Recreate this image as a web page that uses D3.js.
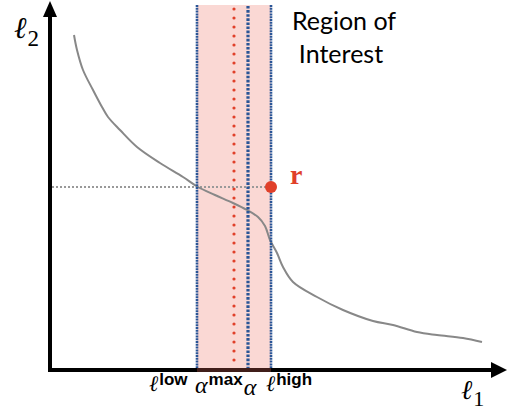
<!DOCTYPE html>
<html>
<head>
<meta charset="utf-8">
<script src="https://cdn.jsdelivr.net/npm/d3@7"></script>
<style>
  body { margin: 0; background: #fff; }
  svg { display: block; }
</style>
</head>
<body>
<svg id="chart"></svg>
<script>
// trade-off curve, l1 vs l2
const curveL1 = [24, 27, 33, 43, 52, 58, 70, 87, 110, 133, 148, 165, 183, 197, 208, 215, 220, 227, 233, 243, 267, 293, 323, 343, 367, 387, 413, 432];
const curveL2 = [335, 320, 300, 280, 263, 253, 240, 223, 207, 193, 183, 175, 167, 160, 153, 144, 130, 117, 103, 88, 73, 60, 49, 45, 38, 35, 32, 28];

// region of interest markers along l1
const lLow = 147;
const alphaMax = 184;
const alphaVal = 198;
const lHigh = 221;
const rL2 = 183;

const width = 514, height = 410;
const margin = { top: 5, right: 9, bottom: 40, left: 50 };

const svg = d3.select('#chart')
  .attr('width', width)
  .attr('height', height);

const x = d3.scaleLinear().domain([0, 455]).range([margin.left, width - margin.right]);
const y = d3.scaleLinear().domain([0, 365]).range([height - margin.bottom, margin.top]);

const serif = '"Liberation Serif", "DejaVu Serif", serif';
const ellFont = '"DejaVu Serif", serif';
const sans = '"Liberation Sans", Arial, sans-serif';

// axes with arrow heads
svg.append('line')
  .attr('x1', x(0)).attr('y1', y(0))
  .attr('x2', x(0)).attr('y2', 14)
  .attr('stroke', '#000').attr('stroke-width', 4);
svg.append('path')
  .attr('d', `M${x(0) - 7},17 L${x(0)},1 L${x(0) + 7},17 Z`)
  .attr('fill', '#000');

svg.append('line')
  .attr('x1', x(0) - 2).attr('y1', y(0))
  .attr('x2', 494).attr('y2', y(0))
  .attr('stroke', '#000').attr('stroke-width', 4);
svg.append('path')
  .attr('d', `M491,${y(0) - 8} L507,${y(0)} L491,${y(0) + 8} Z`)
  .attr('fill', '#000');

// shaded region (drawn over the axis, semi transparent)
svg.append('rect')
  .attr('x', x(lLow))
  .attr('y', margin.top)
  .attr('width', x(lHigh) - x(lLow))
  .attr('height', y(0) + 2 - margin.top)
  .attr('fill', 'rgb(236,112,96)')
  .attr('fill-opacity', 0.27);

// horizontal guide to r
svg.append('line')
  .attr('x1', x(0) + 2).attr('y1', y(rL2))
  .attr('x2', x(lHigh)).attr('y2', y(rL2))
  .attr('stroke', '#999').attr('stroke-width', 2)
  .attr('stroke-dasharray', '2,2');

// curve
const curve = curveL1.map((d, i) => [d, curveL2[i]]);
svg.append('path')
  .datum(curve)
  .attr('d', d3.line().x(d => x(d[0])).y(d => y(d[1])).curve(d3.curveCatmullRom))
  .attr('fill', 'none')
  .attr('stroke', '#888')
  .attr('stroke-width', 2);

// vertical markers
const yTop = margin.top, yBot = y(0) - 2;
[lLow, lHigh].forEach(v => {
  svg.append('line')
    .attr('x1', x(v)).attr('x2', x(v))
    .attr('y1', yTop).attr('y2', yBot)
    .attr('stroke', '#2a5596').attr('stroke-width', 2.6)
    .attr('stroke-dasharray', '2,0.8');
});
svg.append('line')
  .attr('x1', x(alphaVal)).attr('x2', x(alphaVal))
  .attr('y1', yTop + 1).attr('y2', yBot)
  .attr('stroke', '#2a5596').attr('stroke-width', 3.2)
  .attr('stroke-dasharray', '2.6,1.5');
svg.append('line')
  .attr('x1', x(alphaMax)).attr('x2', x(alphaMax))
  .attr('y1', yTop + 4).attr('y2', yBot)
  .attr('stroke', '#e0402a').attr('stroke-width', 3.2)
  .attr('stroke-linecap', 'round')
  .attr('stroke-dasharray', '0,9');

// point r
svg.append('circle')
  .attr('cx', x(lHigh)).attr('cy', y(rL2))
  .attr('r', 6)
  .attr('fill', '#e0402a');
svg.append('text')
  .attr('x', x(lHigh) + 19).attr('y', y(rL2) - 3)
  .attr('font-family', serif).attr('font-weight', 'bold')
  .attr('font-size', 28).attr('fill', '#e0402a')
  .text('r');

// region title
const title = svg.append('text')
  .attr('text-anchor', 'middle')
  .attr('font-family', '"Lato", "Open Sans", sans-serif')
  .attr('font-size', 25).attr('fill', '#000');
title.append('tspan').attr('x', 344).attr('y', 30).text('Region of');
title.append('tspan').attr('x', 341).attr('y', 63).text('Interest');

// axis labels
function ell(g, xPos, yPos, sub, subSize, dy, subFont, subWeight, size) {
  const t = g.append('text').attr('x', xPos).attr('y', yPos);
  t.append('tspan')
    .attr('font-family', ellFont).attr('font-style', 'italic')
    .attr('font-size', size)
    .text('ℓ');
  t.append('tspan')
    .attr('dx', 1).attr('dy', dy)
    .attr('font-family', subFont).attr('font-weight', subWeight)
    .attr('font-size', subSize)
    .text(sub);
  return t;
}
ell(svg, 14, 38, '2', 23, 8, serif, 'normal', 30);
ell(svg, 461, 399, '1', 22, 7, serif, 'normal', 27);

// labels under the region
ell(svg, 149, 391, 'low', 17, -6, sans, 'bold', 22);
const am = svg.append('text').attr('x', 195).attr('y', 393);
am.append('tspan').attr('font-family', serif).attr('font-style', 'italic').attr('font-size', 24).text('α');
am.append('tspan').attr('dx', 1).attr('dy', -8).attr('font-family', sans).attr('font-weight', 'bold').attr('font-size', 17).text('max');
am.append('tspan').attr('dx', 1).attr('dy', 10).attr('font-family', serif).attr('font-style', 'italic').attr('font-size', 24).text('α');
ell(svg, 266, 391, 'high', 17, -6, sans, 'bold', 22);
</script>
</body>
</html>
